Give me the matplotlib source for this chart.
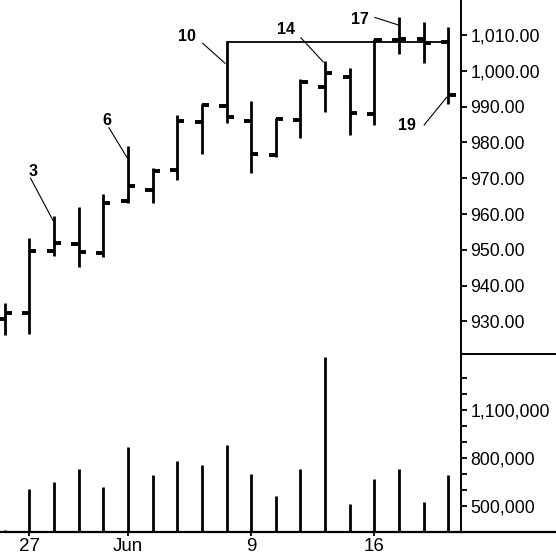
import matplotlib
matplotlib.use("Agg")
import matplotlib.pyplot as plt
from matplotlib.lines import Line2D
from matplotlib.ticker import FuncFormatter, FixedLocator
import numpy as np

plt.rcParams["font.family"] = ["Liberation Sans", "DejaVu Sans"]

# -----------------------
# Data (May 23 - Jun 19)
# -----------------------
dates = ["May 23", "May 27", "May 28", "May 29", "May 30",
         "Jun 2", "Jun 3", "Jun 4", "Jun 5", "Jun 6",
         "Jun 9", "Jun 10", "Jun 11", "Jun 12", "Jun 13",
         "Jun 16", "Jun 17", "Jun 18", "Jun 19"]
opens = [930.6, 932.3, 949.7, 951.6, 949.0, 963.6, 966.7, 972.3, 985.6, 990.2,
         986.1, 976.6, 986.3, 995.4, 998.4, 987.9, 1008.6, 1008.8, 1008.0]
highs = [935.3, 953.2, 959.5, 962.1, 965.6, 979.0, 972.8, 987.7, 990.7, 1008.1,
         991.7, 986.7, 997.6, 1002.8, 1000.7, 1008.8, 1015.1, 1013.7, 1012.2]
lows = [926.2, 926.5, 948.3, 945.3, 948.1, 963.0, 963.0, 969.5, 976.8, 985.3,
        971.4, 976.0, 981.2, 988.6, 982.1, 984.9, 1004.7, 1002.1, 990.7]
closes = [932.3, 949.8, 952.0, 949.4, 963.2, 967.9, 972.1, 986.0, 990.5, 987.2,
          976.8, 986.5, 997.0, 999.3, 988.3, 1008.7, 1008.9, 1007.9, 993.2]
volumes = [350000, 604000, 648000, 729000, 619000, 867000, 692000, 781000, 758000, 881000,
           700000, 561000, 729000, 1433000, 514000, 671000, 729000, 523000, 692000]

xtick_pos = [1, 5, 10, 15]
xtick_labels = ["27", "Jun", "9", "16"]
price_ticks = [930, 940, 950, 960, 970, 980, 990, 1000, 1010]
vol_ticks = [500000, 600000, 700000, 800000, 900000, 1000000, 1100000, 1200000, 1300000]
vol_labeled = [500000, 800000, 1100000]

x = np.arange(len(dates))

# -----------------------
# Layout
# -----------------------
W = H = 556.0
fig = plt.figure(figsize=(5.56, 5.56), dpi=100)
right = 460.7 / W
sep_y = 354.0
base_y = 532.0
ax = fig.add_axes([0, 1 - sep_y / H, right, sep_y / H])
axv = fig.add_axes([0, 1 - base_y / H, right, (base_y - sep_y) / H], sharex=ax)

# -----------------------
# Price bars (OHLC)
# -----------------------
tick_len = 0.29
ax.vlines(x, lows, highs, color="black", lw=2.0)
ax.hlines(opens, x - tick_len, x, color="black", lw=2.8)
ax.hlines(closes, x, x + tick_len, color="black", lw=2.8)

# resistance line from bar 10 high
ax.plot([9, 18], [highs[9], highs[9]], color="black", lw=1.3)

# numbered annotations
notes = [
    ("3", (1.16, 972.0), (1.05, 970.0), (1.97, 958.1)),
    ("6", (4.16, 986.0), (4.23, 984.1), (4.97, 975.7)),
    ("10", (7.41, 1009.5), (8.03, 1007.7), (8.94, 1002.1)),
    ("14", (11.40, 1011.4), (12.02, 1009.2), (12.92, 1002.5)),
    ("17", (14.41, 1014.2), (15.02, 1014.9), (15.97, 1012.8)),
    ("19", (16.31, 984.6), (17.02, 984.9), (17.93, 992.6)),
]
for label, txt, p0, p1 in notes:
    ax.text(txt[0], txt[1], label, ha="center", va="center",
            fontsize=11.5, fontweight="bold")
    ax.plot([p0[0], p1[0]], [p0[1], p1[1]], color="black", lw=0.8)

ax.set_xlim(-0.19, 18.5)
ax.set_ylim(1010 - (sep_y - 35) / 3.581, 1010 + 35 / 3.581)

ax.yaxis.tick_right()
ax.set_yticks(price_ticks)
ax.yaxis.set_major_formatter(FuncFormatter(lambda v, p: f"{v:,.2f}"))
ax.tick_params(axis="y", length=4, width=1.3, pad=3, labelsize=12.7)
ax.tick_params(axis="x", bottom=False, labelbottom=False)
for s in ["left", "top", "bottom"]:
    ax.spines[s].set_visible(False)
ax.spines["right"].set_linewidth(1.4)

# -----------------------
# Volume
# -----------------------
axv.vlines(x, 0, volumes, color="black", lw=2.0)
vpx = 16.0 / 100000
axv.set_ylim(500000 - (base_y - 506) / vpx, 500000 + (506 - sep_y) / vpx)

axv.yaxis.tick_right()
axv.yaxis.set_major_locator(FixedLocator(vol_ticks))
axv.yaxis.set_major_formatter(
    FuncFormatter(lambda v, p: f"{int(v):,}" if int(round(v)) in vol_labeled else ""))
axv.tick_params(axis="y", length=4, width=1.3, pad=3, labelsize=12.7)

axv.set_xticks(xtick_pos)
axv.set_xticklabels(xtick_labels)
axv.tick_params(axis="x", length=3, width=1.3, pad=1, labelsize=13.5)
for s in ["left", "top"]:
    axv.spines[s].set_visible(False)
axv.spines["right"].set_linewidth(1.4)
axv.spines["bottom"].set_linewidth(1.6)

# separator and base line running through the label area
fig.add_artist(Line2D([right, 1], [1 - sep_y / H, 1 - sep_y / H],
                      transform=fig.transFigure, color="black", lw=1.4))
fig.add_artist(Line2D([right, 1], [1 - base_y / H, 1 - base_y / H],
                      transform=fig.transFigure, color="black", lw=1.6))

fig.savefig("out.png", dpi=100)
